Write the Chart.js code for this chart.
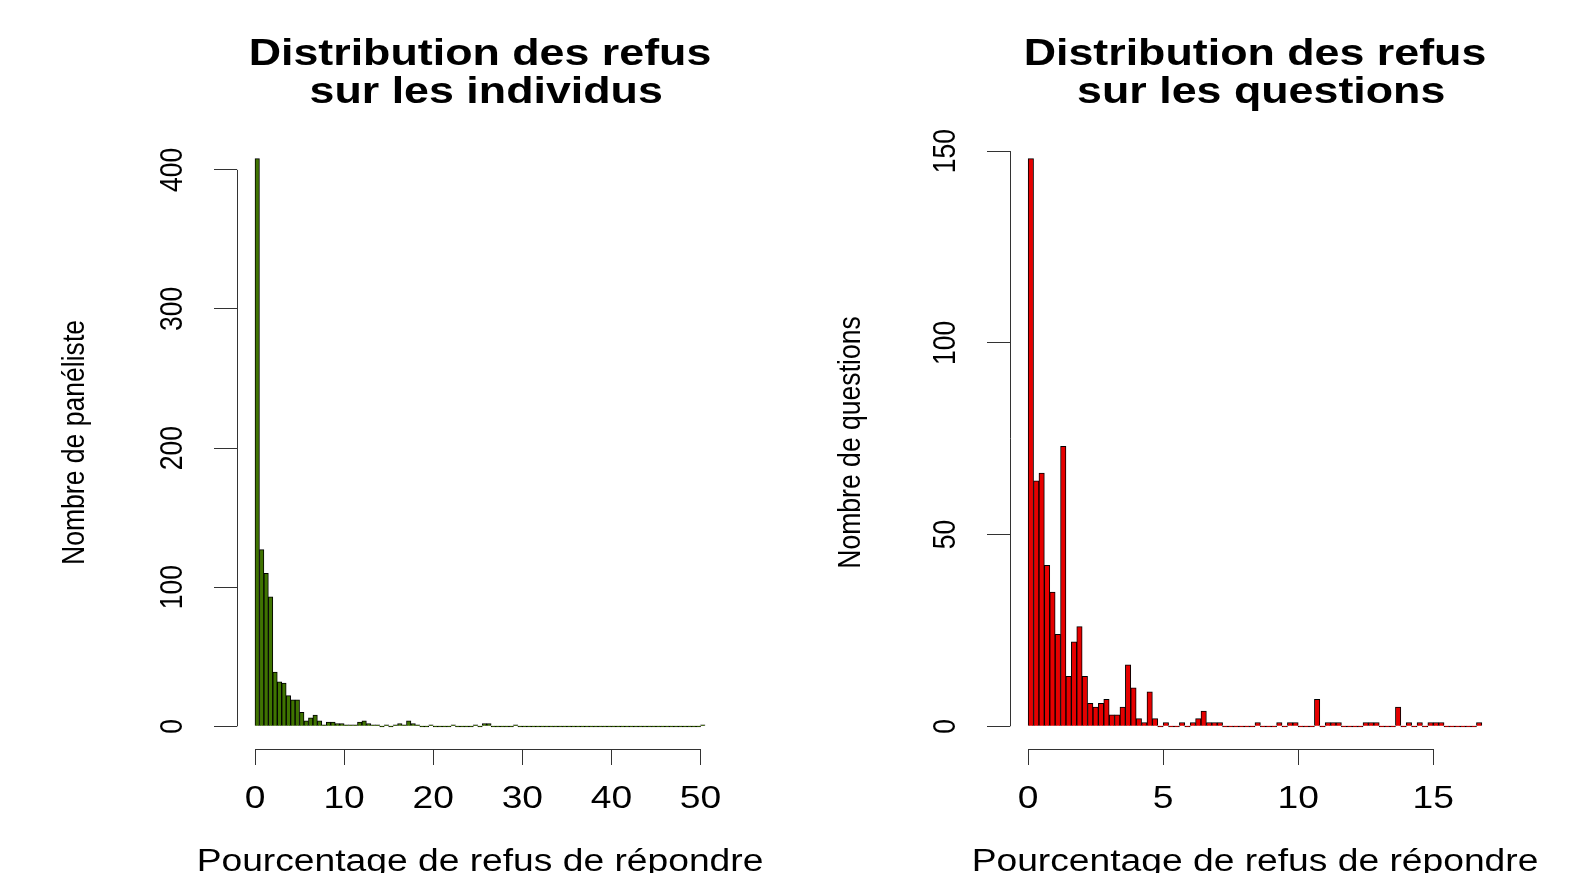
<!DOCTYPE html>
<html><head><meta charset="utf-8">
<script src="https://cdn.jsdelivr.net/npm/chart.js@4.4.0/dist/chart.umd.min.js"></script>
<style>
html,body{margin:0;padding:0;background:#fff;width:1573px;height:873px;overflow:hidden}
.panel{position:absolute;top:0;height:873px}
#p1{left:0;width:786px}
#p2{left:786px;width:787px}
</style></head><body>
<div class="panel" id="p1"><canvas id="c1" width="786" height="873"></canvas></div>
<div class="panel" id="p2"><canvas id="c2" width="787" height="873"></canvas></div>
<script>
// ---- texts ----
const leftTitle = ["Distribution des refus", " sur les individus"];
const rightTitle = ["Distribution des refus", " sur les questions"];
const xAxisTitle = "Pourcentage de refus de répondre";
const leftYTitle = "Nombre de panéliste";
const rightYTitle = "Nombre de questions";

// ---- histogram bins (width of each class, in %) ----
const leftBinWidth = 0.5;
const rightBinWidth = 0.2;

// ---- counts per bin ----
const leftCounts = [
  408,127,110,93,39,32,31,22,19,19,
  10,4,6,8,4,1,3,3,2,2,
  1,1,1,3,4,2,1,1,0,1,
  0,1,2,1,4,2,1,0,0,1,
  0,0,0,0,1,0,0,0,0,1,
  0,2,2,0,0,0,0,0,1,0,
  0,0,0,0,0,0,0,0,0,0,
  0,0,0,0,0,0,0,0,0,0,
  0,0,0,0,0,0,0,0,0,0,
  0,0,0,0,0,0,0,0,0,0,
  1
];
const rightCounts = [
  148,64,66,42,35,24,73,13,22,26,
  13,6,5,6,7,3,3,5,16,10,
  2,1,9,2,0,1,0,0,1,0,
  1,2,4,1,1,1,0,0,0,0,
  0,0,1,0,0,0,1,0,1,1,
  0,0,0,7,0,1,1,1,0,0,
  0,0,1,1,1,0,0,0,5,0,
  1,0,1,0,1,1,1,0,0,0,
  0,0,0,1
];

// ---- axis ticks ----
const leftXTicks = [0,10,20,30,40,50];
const leftYTicks = [0,100,200,300,400];
const rightXTicks = [0,5,10,15];
const rightYTicks = [0,50,100,150];

const FAM = "'Liberation Sans', Arial, Helvetica, sans-serif";

function drawText(ctx, text, x, y, font, sx, rot){
  ctx.save();
  ctx.translate(x, y);
  if (rot) ctx.rotate(rot);
  ctx.scale(sx, 1);
  ctx.font = font;
  ctx.textAlign = 'center';
  ctx.textBaseline = 'alphabetic';
  ctx.fillStyle = '#000';
  ctx.fillText(text, 0, 0);
  ctx.restore();
}

function rAxesPlugin(cfg){
  return {
    id: 'rAxes',
    afterDraw(chart){
      const {ctx, chartArea, scales:{x, y}} = chart;
      const xT = cfg.xTicks, yT = cfg.yTicks;
      // axis lines spanning the tick range (R style)
      ctx.save();
      ctx.strokeStyle = '#333';
      ctx.lineWidth = 1;
      ctx.beginPath();
      const yb = Math.round(chartArea.bottom) + 0.5;
      ctx.moveTo(x.getPixelForValue(xT[0]), yb);
      ctx.lineTo(x.getPixelForValue(xT[xT.length-1]), yb);
      const xl = Math.round(chartArea.left) + 0.5;
      ctx.moveTo(xl, y.getPixelForValue(yT[0]));
      ctx.lineTo(xl, y.getPixelForValue(yT[yT.length-1]));
      ctx.stroke();
      ctx.restore();

      const cx = (chartArea.left + chartArea.right) / 2;
      const cy = (chartArea.top + chartArea.bottom) / 2;
      // main title
      drawText(ctx, cfg.title[0], cx, 65, "bold 37px " + FAM, 1.21, 0);
      drawText(ctx, cfg.title[1], cx, 102.5, "bold 37px " + FAM, 1.21, 0);
      // x tick labels
      xT.forEach(v => drawText(ctx, String(v), x.getPixelForValue(v), 808, "31px " + FAM, 1.2, 0));
      // x title
      drawText(ctx, xAxisTitle, cx, 870.5, "31px " + FAM, 1.2, 0);
      // y tick labels (rotated, reading upward)
      yT.forEach(v => drawText(ctx, String(v), chartArea.left - 55, y.getPixelForValue(v), "32px " + FAM, 0.83, -Math.PI/2));
      // y title
      drawText(ctx, cfg.yTitle, cfg.yTitleX, cy, "32px " + FAM, 0.83, -Math.PI/2);
    }
  };
}

function makeHist(id, cfg){
  const data = cfg.counts.map((c,i)=>({x:(i+0.5)*cfg.binWidth, y:c}));
  const nb = cfg.counts.length*cfg.binWidth;
  const xPad = nb*0.04;
  const ymax = Math.max(...cfg.counts);
  const yPad = ymax*0.04;
  return new Chart(document.getElementById(id), {
    type: 'bar',
    data: { datasets: [{
      data,
      backgroundColor: cfg.fill,
      borderColor: '#000',
      borderWidth: 1,
      minBarLength: 1,
      barPercentage: 1,
      categoryPercentage: 1
    }]},
    options: {
      responsive: false,
      animation: false,
      layout: { padding: { left: 0, right: cfg.padRight, top: 136, bottom: 0 } },
      plugins: {
        legend: { display: false },
        tooltip: { enabled: false },
        title: { display: false }
      },
      scales: {
        x: {
          type: 'linear',
          position: 'bottom',
          min: -xPad,
          max: nb + xPad,
          offset: false,
          afterBuildTicks: s => { s.ticks = cfg.xTicks.map(v=>({value:v})); },
          afterFit: s => { s.height = 124; },
          ticks: { display: false, autoSkip: false },
          grid: { display: true, offset: false, drawOnChartArea: false, drawTicks: true, tickLength: 16, color: '#333', lineWidth: 1 },
          border: { display: false },
          title: { display: false }
        },
        y: {
          type: 'linear',
          position: 'left',
          min: -yPad,
          max: ymax + yPad,
          afterBuildTicks: s => { s.ticks = cfg.yTicks.map(v=>({value:v})); },
          afterFit: s => { s.width = cfg.areaLeft; },
          ticks: { display: false, autoSkip: false },
          grid: { display: true, drawOnChartArea: false, drawTicks: true, tickLength: 23, color: '#333', lineWidth: 1 },
          border: { display: false },
          title: { display: false }
        }
      }
    },
    plugins: [rAxesPlugin(cfg)]
  });
}

makeHist('c1', {
  counts: leftCounts, binWidth: leftBinWidth, fill: '#3f7400',
  title: leftTitle, yTitle: leftYTitle, xTicks: leftXTicks, yTicks: leftYTicks,
  padRight: 63, areaLeft: 237, yTitleX: 84
});
makeHist('c2', {
  counts: rightCounts, binWidth: rightBinWidth, fill: '#e60000',
  title: rightTitle, yTitle: rightYTitle, xTicks: rightXTicks, yTicks: rightYTicks,
  padRight: 73, areaLeft: 224, yTitleX: 73.5
});
</script>
</body></html>
